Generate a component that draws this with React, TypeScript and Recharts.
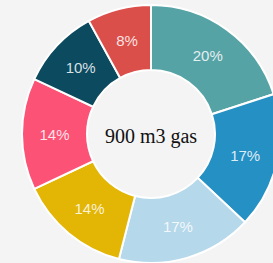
import React from 'react';
import { PieChart, Pie, Cell } from 'recharts';

const names = ['A', 'B', 'C', 'D', 'E', 'F', 'G'];
const shares = [20, 17, 17, 14, 14, 10, 8];
const colors = ['#56a3a6', '#2590c4', '#b5d8ea', '#e3b505', '#fc5276', '#0b4a5f', '#db4f4b'];
const centerLabel = '900 m3 gas';

const data = names.map((name, i) => ({ name, value: shares[i] }));

const CX = 151;
const CY = 134;
const RADIAN = Math.PI / 180;

const renderLabel = (props: any) => {
  const { cx, cy, midAngle, innerRadius, outerRadius, value } = props;
  const r = (innerRadius + outerRadius) / 2;
  const x = cx + r * Math.cos(-midAngle * RADIAN);
  const y = cy + r * Math.sin(-midAngle * RADIAN);
  return (
    <text
      x={x}
      y={y}
      fill="#ffffff"
      fillOpacity={0.85}
      textAnchor="middle"
      dominantBaseline="central"
      fontSize={15}
      fontFamily="'Liberation Sans', Arial, sans-serif"
    >
      {`${value}%`}
    </text>
  );
};

const App: React.FC = () => {
  return (
    <div style={{ position: 'fixed', left: 0, top: 0, width: 273, height: 263, background: '#f4f4f4' }}>
      <PieChart width={273} height={263} margin={{ top: 0, right: 0, bottom: 0, left: 0 }}>
        <Pie
          data={data}
          dataKey="value"
          cx={CX}
          cy={CY}
          innerRadius={64}
          outerRadius={129}
          startAngle={90}
          endAngle={-270}
          stroke="#ffffff"
          strokeWidth={2}
          label={renderLabel}
          labelLine={false}
          isAnimationActive={false}
        >
          {data.map((d, i) => (
            <Cell key={d.name} fill={colors[i]} />
          ))}
        </Pie>
        {/* center caption */}
        <text
          x={CX}
          y={CY + 2}
          fill="#111111"
          textAnchor="middle"
          dominantBaseline="central"
          fontSize={20}
          fontFamily="'Liberation Serif', 'Times New Roman', serif"
        >
          {centerLabel}
        </text>
      </PieChart>
    </div>
  );
};

export default App;
